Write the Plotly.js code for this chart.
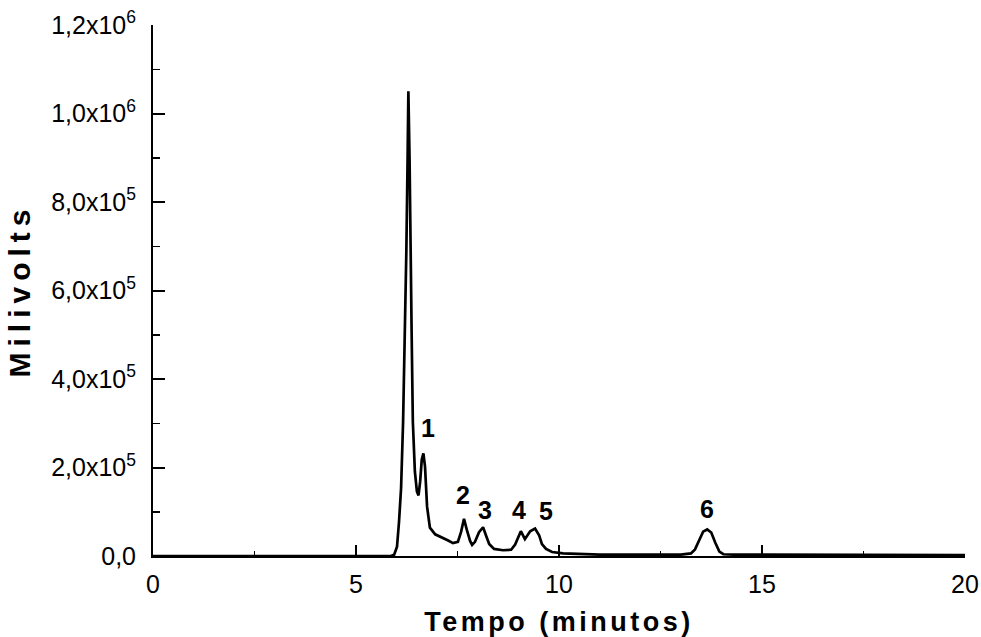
<!DOCTYPE html>
<html>
<head>
<meta charset="utf-8">
<script src="https://cdn.plot.ly/plotly-3.0.1.min.js"></script>
<style>
  html, body { margin: 0; padding: 0; background: #fff; }
  #chart { width: 981px; height: 637px; }
  .xtitle { letter-spacing: 3.5px; }
  .ytitle { letter-spacing: 6px; }
</style>
</head>
<body>
<div id="chart"></div>
<script>
// Retention time (minutes)
const tempo = [0, 2, 4, 5, 5.6, 5.86, 5.94, 6.01, 6.06, 6.11, 6.16, 6.21, 6.24, 6.27, 6.29,
  6.32, 6.34, 6.37, 6.40, 6.45, 6.50, 6.54, 6.58, 6.62, 6.66, 6.70, 6.75, 6.82, 6.95, 7.07,
  7.19, 7.27, 7.39, 7.51, 7.59, 7.66, 7.73, 7.81, 7.86, 7.93, 8.03, 8.13, 8.20, 8.28, 8.40,
  8.62, 8.82, 8.92, 9.06, 9.16, 9.29, 9.41, 9.51, 9.58, 9.68, 9.83, 10.1, 10.5, 11, 11.5,
  12, 12.5, 13.0, 13.25, 13.35, 13.45, 13.55, 13.65, 13.75, 13.85, 13.95, 14.05, 14.3, 15,
  16, 17, 18, 19, 20];
// Detector signal (mV)
const milivolts = [0, 0, 0, 0, 0, 0, 3000, 21000, 78000, 153000, 304000, 507000, 688000, 892000, 1050000,
  892000, 688000, 507000, 304000, 191000, 146000, 137000, 168000, 218000, 232000, 202000, 112000, 64000, 49000, 44000,
  40000, 35000, 29000, 32000, 55000, 84000, 59000, 34000, 25000, 32000, 54000, 65000, 47000, 27000, 16000,
  13000, 14000, 26000, 56000, 38000, 56000, 62000, 47000, 27000, 16000, 9000, 6000, 4000, 3000, 3000,
  3000, 3000, 3000, 6000, 15000, 35000, 55000, 60000, 53000, 30000, 10000, 4000, 3000, 3000,
  2500, 2500, 2500, 2000, 2000];

// Peak labels
const peakLabels = ["1", "2", "3", "4", "5", "6"];
const peakLabelX = [6.77, 7.64, 8.18, 9.02, 9.68, 13.64];
const peakLabelY = [290000, 138000, 103000, 103000, 102000, 107000];

// Axis ticks
const yTickVals = [0, 200000, 400000, 600000, 800000, 1000000, 1200000];
const yTickText = ["0,0", "2,0x10<sup>5</sup>", "4,0x10<sup>5</sup>", "6,0x10<sup>5</sup>",
  "8,0x10<sup>5</sup>", "1,0x10<sup>6</sup>", "1,2x10<sup>6</sup>"];
const xTickVals = [0, 5, 10, 15, 20];
const xTickText = ["0", "5", "10", "15", "20"];

const FONT = "Liberation Sans, Arial, Helvetica, sans-serif";

const trace = {
  x: tempo, y: milivolts, type: "scatter", mode: "lines",
  line: { color: "#000", width: 2.7 }, hoverinfo: "skip", showlegend: false
};

const annotations = peakLabels.map((t, i) => ({
  x: peakLabelX[i], y: peakLabelY[i], xref: "x", yref: "y", text: t, showarrow: false,
  font: { family: FONT, size: 25, color: "#000", weight: "bold" }
}));

const layout = {
  width: 981, height: 637,
  margin: { l: 153, r: 16, t: 25, b: 81 },
  paper_bgcolor: "#fff", plot_bgcolor: "#fff",
  showlegend: false,
  font: { family: FONT, color: "#000" },
  xaxis: {
    range: [0, 20], showgrid: false, zeroline: false,
    showline: true, linecolor: "#000", linewidth: 2,
    tickmode: "array", tickvals: xTickVals, ticktext: xTickText,
    ticks: "inside", ticklen: 11, tickwidth: 2, tickcolor: "#000",
    tickfont: { family: FONT, size: 25, color: "#000" },
    ticklabelstandoff: 5,
    minor: { tickmode: "linear", tick0: 0, dtick: 2.5, ticks: "inside", ticklen: 5, tickwidth: 1.5, tickcolor: "#000", showgrid: false },
    title: { text: "Tempo (minutos)", standoff: 15, font: { family: FONT, size: 27, color: "#000", weight: "bold" } }
  },
  yaxis: {
    range: [0, 1200000], showgrid: false, zeroline: false,
    showline: true, linecolor: "#000", linewidth: 2,
    tickmode: "array", tickvals: yTickVals, ticktext: yTickText,
    ticks: "inside", ticklen: 12, tickwidth: 2, tickcolor: "#000",
    tickfont: { family: FONT, size: 25, color: "#000" },
    ticklabelstandoff: 10,
    minor: { tickmode: "linear", tick0: 0, dtick: 100000, ticks: "inside", ticklen: 7, tickwidth: 1.5, tickcolor: "#000", showgrid: false },
    title: { text: "Milivolts", standoff: 12, font: { family: FONT, size: 30, color: "#000", weight: "bold" } }
  },
  annotations: annotations
};

Plotly.newPlot("chart", [trace], layout, { displayModeBar: false, staticPlot: true });
</script>
</body>
</html>
